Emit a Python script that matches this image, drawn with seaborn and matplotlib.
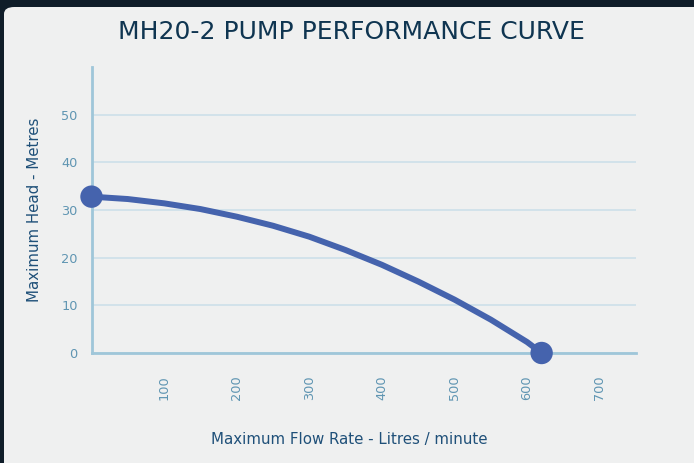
import matplotlib
matplotlib.use("Agg")
import matplotlib.pyplot as plt
from matplotlib.patches import FancyBboxPatch
import numpy as np
import pandas as pd
import seaborn as sns

# values
flow = [0, 50, 100, 150, 200, 250, 300, 350, 400, 450, 500, 550, 600, 620]
head = [32.8, 32.3, 31.4, 30.2, 28.6, 26.7, 24.4, 21.6, 18.5, 15.0, 11.2, 7.0, 2.3, 0.0]

x_ticks = [100, 200, 300, 400, 500, 600, 700]
y_ticks = [0, 10, 20, 30, 40, 50]

title = "MH20-2 PUMP PERFORMANCE CURVE"
x_label = "Maximum Flow Rate - Litres / minute"
y_label = "Maximum Head - Metres"

LINE = "#4563ad"
AXIS = "#9fc6d9"
GRID = "#cfe1ea"
TICK = "#5f95b2"
LABEL = "#1f5079"
TITLE = "#0f3551"

sns.set_style("white")
plt.rcParams["font.family"] = ["DejaVu Sans"]

df = pd.DataFrame({"flow": flow, "head": head})
ends = df.iloc[[0, -1]]

fig = plt.figure(figsize=(6.94, 4.63), dpi=100)
fig.patch.set_facecolor("#0f1d29")

# light card behind the chart
card = FancyBboxPatch((4 / 694, -0.05), 1.2, 1 - 7 / 463 + 0.05,
                      boxstyle="round,pad=0,rounding_size=0.015",
                      transform=fig.transFigure, facecolor="#eff0f0",
                      edgecolor="none", zorder=-10)
fig.patches.append(card)

ax = fig.add_axes([91.5 / 694, 1 - 353 / 463, 544.5 / 694, 286 / 463])
ax.set_facecolor("none")
ax.set_zorder(5)

sns.lineplot(data=df, x="flow", y="head", ax=ax, color=LINE, linewidth=4.3,
             sort=False, clip_on=False, zorder=3,
             solid_joinstyle="round", solid_capstyle="round")
sns.scatterplot(data=ends, x="flow", y="head", ax=ax, color=LINE, s=260,
                edgecolor="none", clip_on=False, zorder=4)

ax.set_xlim(0, 750)
ax.set_ylim(0, 60)
ax.set_xticks(x_ticks)
ax.set_yticks(y_ticks)
ax.set_xticklabels([str(v) for v in x_ticks], rotation=90)
ax.tick_params(axis="both", length=0, labelsize=9.3, labelcolor=TICK)
ax.tick_params(axis="x", pad=16)
ax.tick_params(axis="y", pad=10)

ax.grid(axis="y", color=GRID, linewidth=1.3)
ax.grid(axis="x", visible=False)
ax.set_axisbelow(True)

for side in ["top", "right"]:
    ax.spines[side].set_visible(False)
for side in ["left", "bottom"]:
    ax.spines[side].set_color(AXIS)
    ax.spines[side].set_linewidth(2)

ax.set_xlabel(x_label, fontsize=10.8, color=LABEL)
ax.set_ylabel(y_label, fontsize=10.8, color=LABEL)
ax.xaxis.set_label_coords((349 - 91.5) / 544.5, -(432 - 353) / 286)
ax.yaxis.set_label_coords(-(91.5 - 42) / 544.5, 0.5)

fig.text(351 / 694, 1 - 32 / 463, title, ha="center", va="center",
         fontsize=18, color=TITLE, zorder=6)

fig.savefig("out.png", dpi=100, facecolor=fig.get_facecolor())
